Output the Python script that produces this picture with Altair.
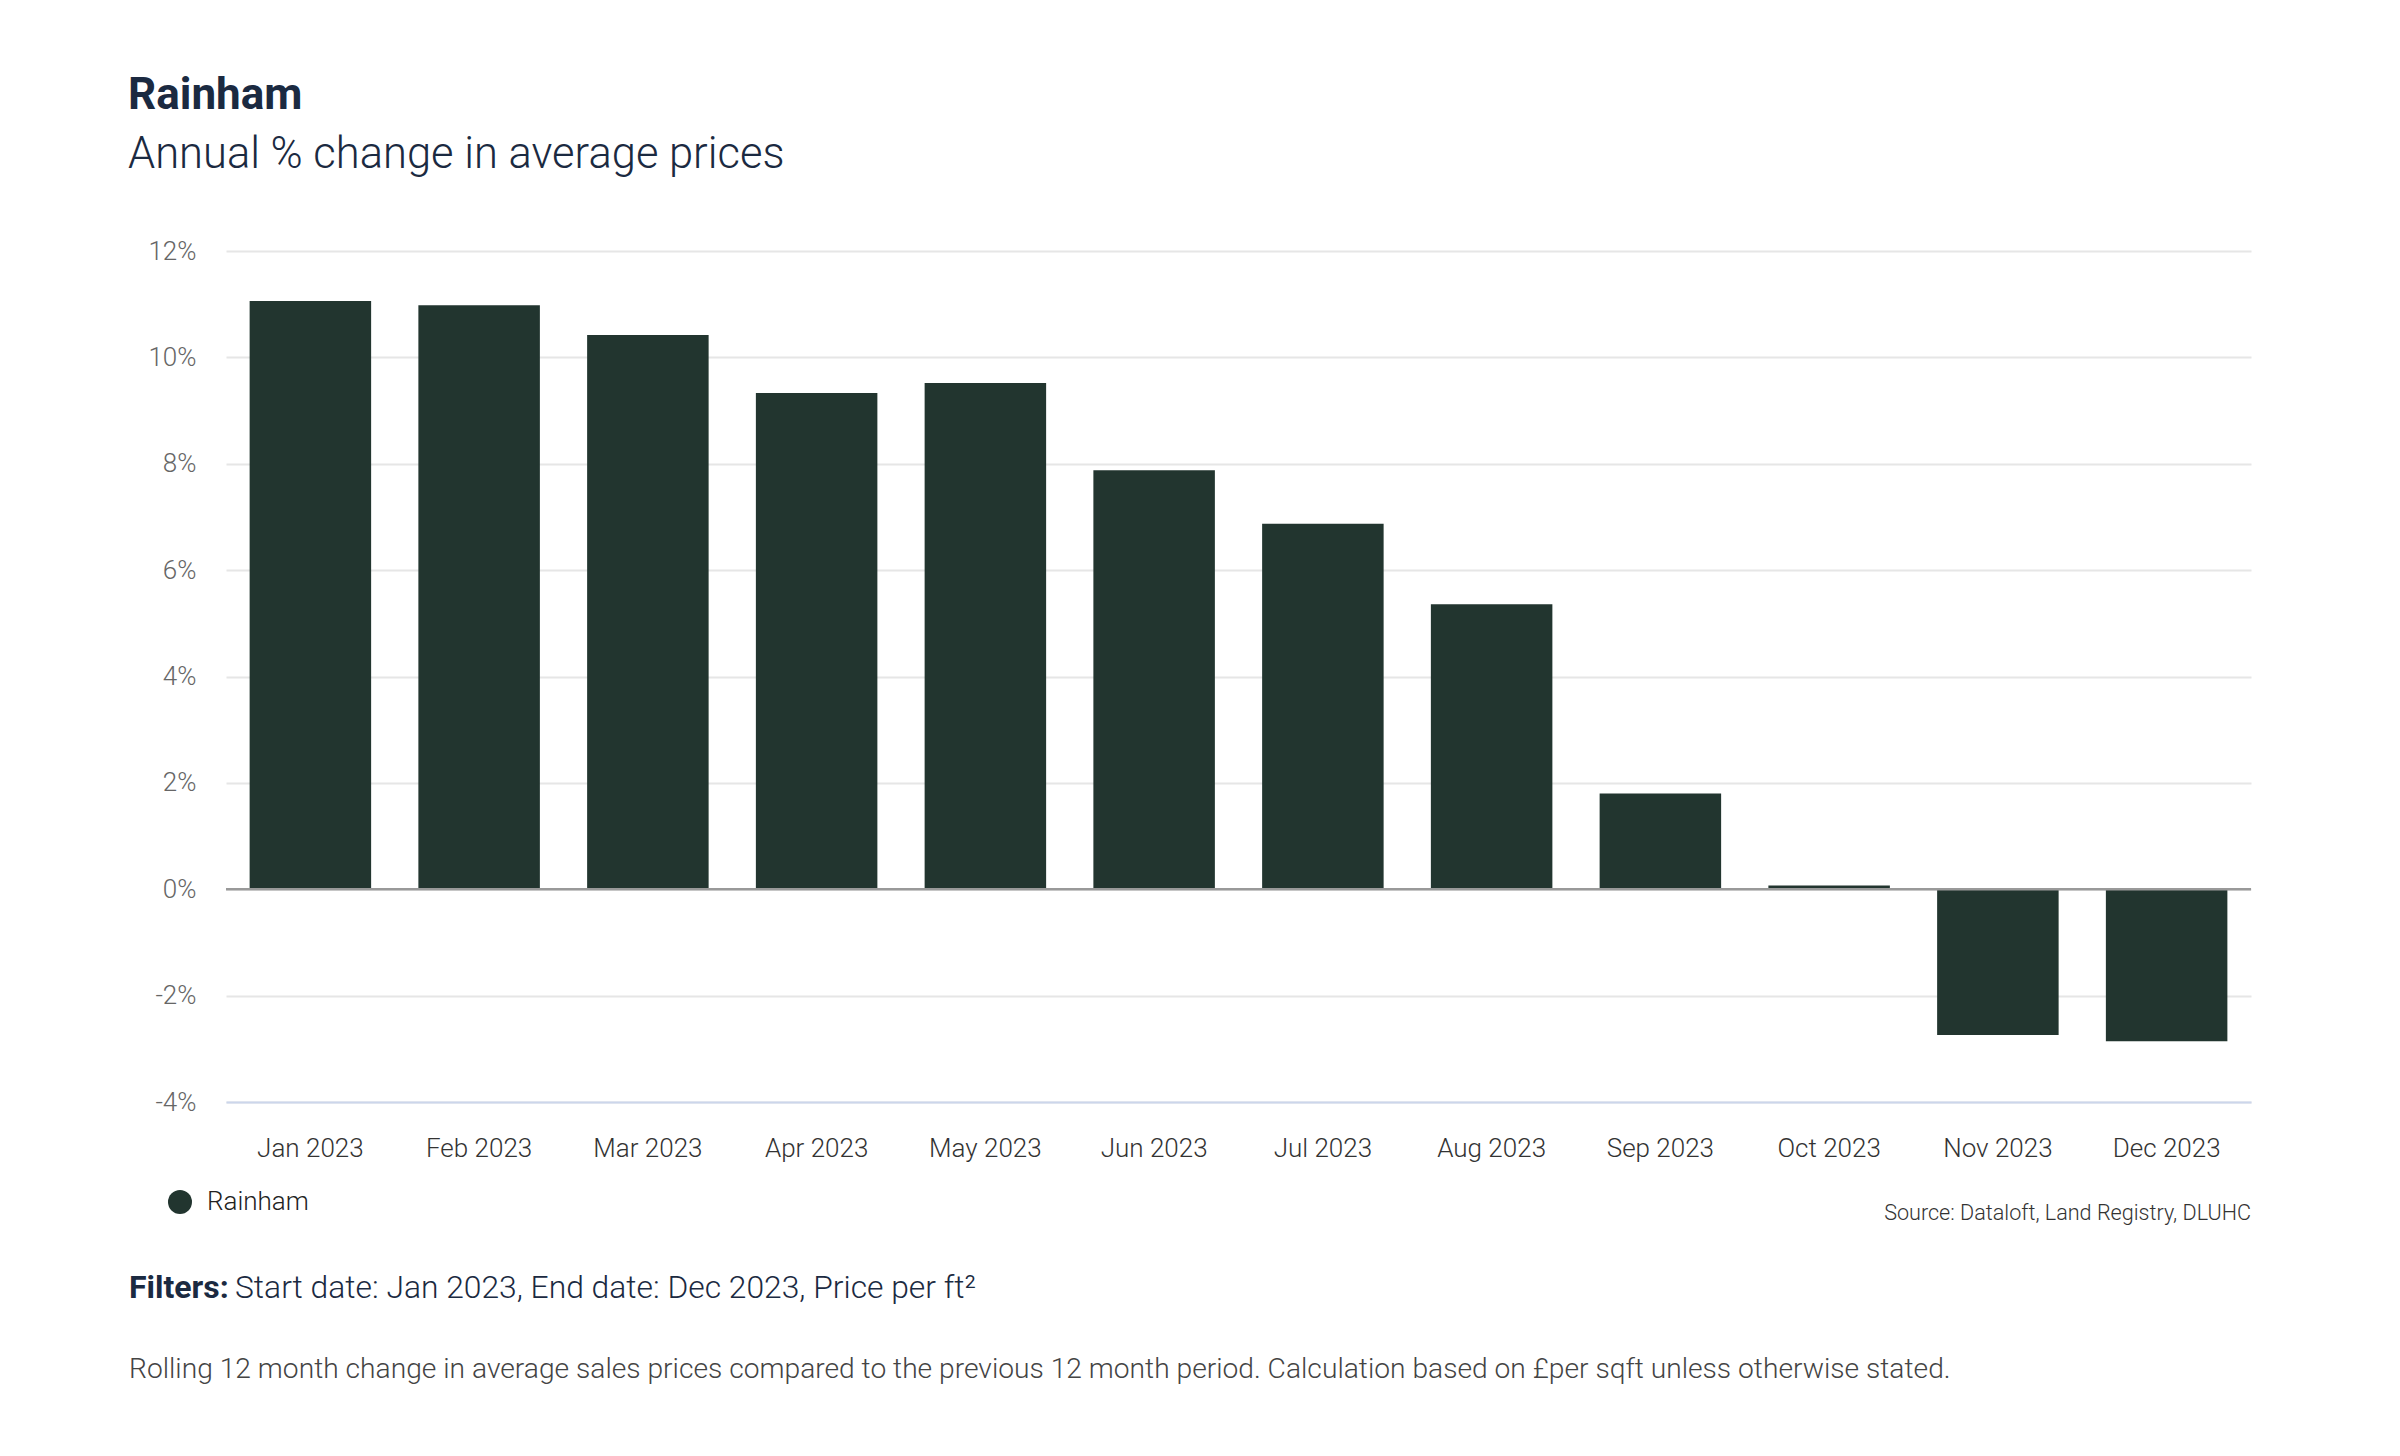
import altair as alt
import pandas as pd

months = ["Jan 2023", "Feb 2023", "Mar 2023", "Apr 2023", "May 2023", "Jun 2023",
          "Jul 2023", "Aug 2023", "Sep 2023", "Oct 2023", "Nov 2023", "Dec 2023"]
values = [11.06, 10.98, 10.42, 9.33, 9.52, 7.88, 6.87, 5.36, 1.80, 0.07, -2.74, -2.86]
series = ["Rainham"] * 12
y_ticks = [-4, -2, 0, 2, 4, 6, 8, 10, 12]
zero_line = [0]

title_text = "Rainham"
subtitle_text = "Annual % change in average prices"
source_text = "Source: Dataloft, Land Registry, DLUHC"
filters_label = "Filters:"
filters_text = "Start date: Jan 2023, End date: Dec 2023, Price per ft\u00b2"
footnote_text = ("Rolling 12 month change in average sales prices compared to the previous "
                 "12 month period. Calculation based on \u00a3per sqft unless otherwise stated.")

df = pd.DataFrame({"month": months, "value": values, "series": series})

W, H = 2025, 851
FONT = "Roboto"
NAVY = "#1b2a41"
BAR = "#22352f"

x_enc = alt.X("month:N", sort=months, title=None,
              scale=alt.Scale(paddingInner=0.28, paddingOuter=0.14),
              axis=alt.Axis(labelAngle=0, labelFont=FONT, labelFontSize=26, labelFontWeight=300,
                            labelColor="#333333", labelPadding=33, ticks=False,
                            domainColor="#ccd6eb", domainWidth=2, grid=False))
y_enc = alt.Y("value:Q", title=None,
              scale=alt.Scale(domain=[-4, 12], nice=False, zero=False),
              axis=alt.Axis(values=y_ticks, labelExpr="datum.value + '%'", labelFont=FONT,
                            labelFontSize=26, labelFontWeight=300, labelColor="#666666",
                            labelPadding=30, ticks=False, domain=False,
                            gridColor="#e6e6e6", gridWidth=2))

bars = alt.Chart(df).mark_bar().encode(
    x=x_enc,
    y=y_enc,
    color=alt.Color("series:N", scale=alt.Scale(range=[BAR]), title=None,
                    legend=alt.Legend(orient="none", legendX=-59, legendY=938,
                                      symbolType="circle", symbolSize=576,
                                      symbolStrokeWidth=0, labelFont=FONT,
                                      labelFontSize=26, labelFontWeight=300,
                                      labelColor="#222222", labelOffset=14, padding=0)),
)

zero_rule = alt.Chart(pd.DataFrame({"v": zero_line})).mark_rule(
    color="#999999", strokeWidth=2.5).encode(y=alt.Y("v:Q"))

text_base = alt.Chart(pd.DataFrame({"t": [0]}))

source = text_base.mark_text(font=FONT, fontSize=21.6, fontWeight=300, color="#333333",
                             align="right", baseline="middle").encode(
    x=alt.value(W), y=alt.value(963), text=alt.value(source_text))

filters_b = text_base.mark_text(font=FONT, fontSize=32, fontWeight="bold", color=NAVY,
                                align="left", baseline="alphabetic").encode(
    x=alt.value(-97), y=alt.value(1047), text=alt.value(filters_label))

filters_t = text_base.mark_text(font=FONT, fontSize=31.8, fontWeight=300, color=NAVY,
                                align="left", baseline="alphabetic").encode(
    x=alt.value(9), y=alt.value(1047), text=alt.value(filters_text))

footnote = text_base.mark_text(font=FONT, fontSize=28.2, fontWeight=300, color="#444444",
                               align="left", baseline="alphabetic").encode(
    x=alt.value(-97), y=alt.value(1127), text=alt.value(footnote_text))

chart = alt.layer(bars, zero_rule, source, filters_b, filters_t, footnote).properties(
    width=W, height=H,
    padding={"left": 218, "top": 243, "right": 130, "bottom": 340},
    autosize=alt.AutoSizeParams(type="none"),
    title=alt.Title(text=title_text, subtitle=subtitle_text, anchor="start", frame="group",
                    dx=-98, font=FONT, fontSize=44, fontWeight="bold", color=NAVY,
                    subtitleFont=FONT, subtitleFontSize=43.5, subtitleFontWeight=300,
                    subtitleColor=NAVY, subtitlePadding=16, offset=62),
).configure(background="white").configure_view(strokeWidth=0, stroke="transparent")

chart.save("out.html", embed_options={"renderer": "svg", "actions": False})
